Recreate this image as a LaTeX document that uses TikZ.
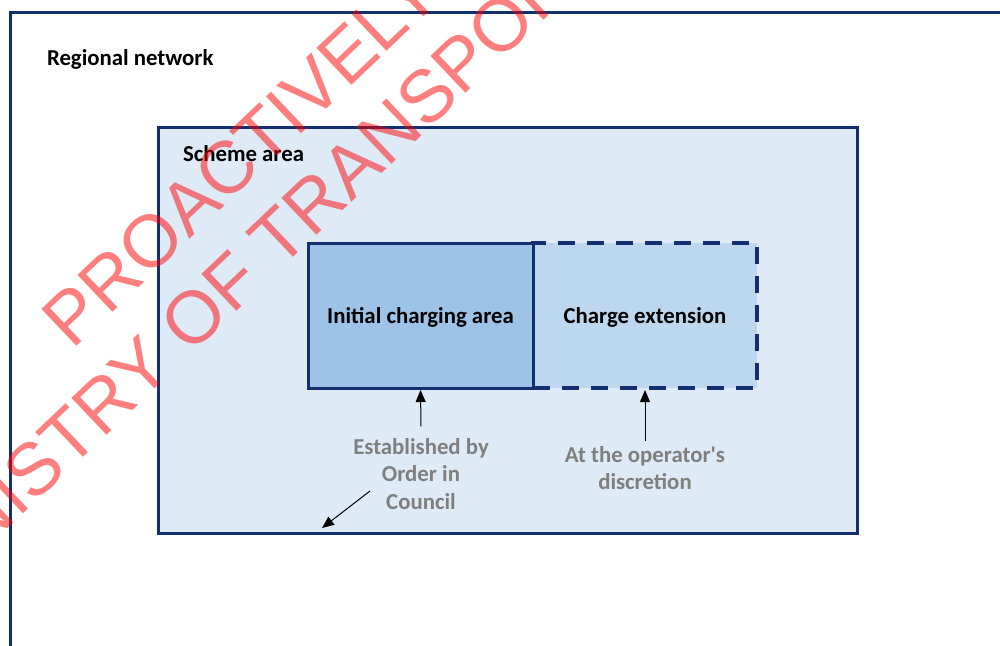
\documentclass[tikz,border=0pt]{standalone}
\usepackage{fontspec}
\setmainfont{Carlito}[Ligatures=TeXOff]
\newfontfamily\markfont{Liberation Sans}
\usepackage{tikz}
\usetikzlibrary{positioning, arrows.meta}

\definecolor{navyline}{HTML}{12306F}
\definecolor{schemefill}{HTML}{DEEBF7}
\definecolor{initialfill}{HTML}{9DC3E6}
\definecolor{extensionfill}{HTML}{BDD7EE}
\definecolor{notegray}{HTML}{7F7F7F}

\begin{document}
\begin{tikzpicture}[x=1pt, y=-1pt,
        labeltext/.style={inner sep=0pt, outer sep=0pt, font=\bfseries\fontsize{22.8}{27.5}\selectfont},
        areabox/.style={draw=navyline, line width=3pt, labeltext, text depth=0pt},
        notetext/.style={labeltext, text=notegray, align=center},
        pointer/.style={-{Triangle[length=12pt, width=10pt]}, line width=1pt, black},
        watermark/.style={anchor=base west, rotate=43.5, inner sep=0pt, text=red, text opacity=0.5, font=\markfont\fontsize{74}{80}\selectfont},
]
        \useasboundingbox (0,0) rectangle (1000,645);
        \clip (0,0) rectangle (1000,645);

        % outer region, runs off the page
        \draw[navyline, line width=3pt] (10,12) rectangle (1030,690);
        \node[labeltext, anchor=west] (region) at (47,59) {Regional network};

        \node[areabox, fill=schemefill, minimum width=699pt, minimum height=406pt] (scheme) at (507.5,330) {};
        \node[labeltext, anchor=west] (schemelbl) at (183,154) {Scheme area};

        \node[areabox, fill=extensionfill, line width=4pt, dash pattern=on 17pt off 12pt, minimum width=224pt, minimum height=145pt] (extension) at (645,315.5) {Charge extension};
        \node[areabox, fill=initialfill, minimum width=225pt, minimum height=145pt, left=0pt of extension] (initial) {Initial charging area};

        \node[notetext] (orderlbl) at (421,474) {Established by\\Order in\\Council};
        \node[notetext] (operatorlbl) at (645,468) {At the operator's\\discretion};

        \coordinate (orderfrom) at (370,491);
        \coordinate (schemeedge) at (322,528);
        \draw[pointer] ([yshift=12pt]orderlbl.north) -- ([yshift=-2pt]initial.south);
        \draw[pointer] ([yshift=5pt]operatorlbl.north) -- ([yshift=-2pt]extension.south);
        \draw[pointer] (orderfrom) -- (schemeedge);

        % stamp
        \node[watermark] (stampa) at (72.6,350.4) {PROACTIVELY};
        \node[watermark] (stampb) at (-80,612) {MINISTRY OF TRANSPORT};
\end{tikzpicture}
\end{document}
